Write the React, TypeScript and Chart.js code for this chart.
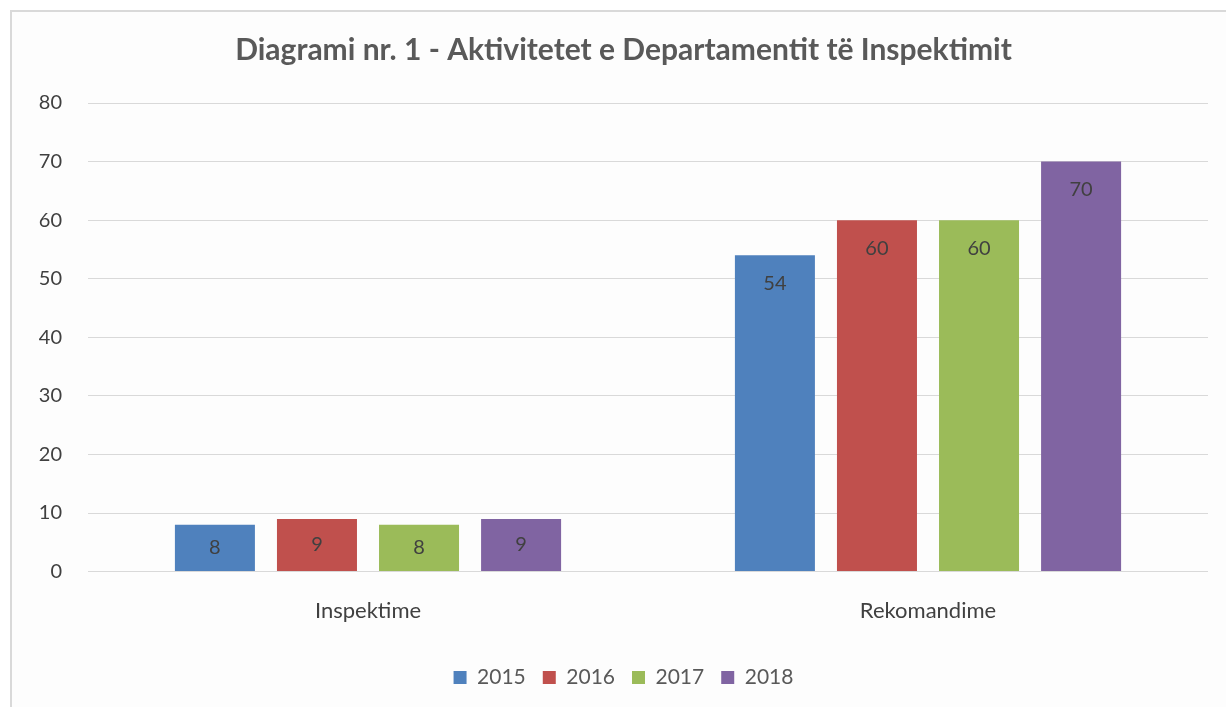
import React, { useEffect, useRef } from "react";
import { Chart, registerables } from "chart.js";

Chart.register(...registerables);

const categories = ["Inspektime", "Rekomandime"];
const seriesNames = ["2015", "2016", "2017", "2018"];
const values2015 = [8, 54];
const values2016 = [9, 60];
const values2017 = [8, 60];
const values2018 = [9, 70];
const seriesColors = ["#4F81BD", "#C0504D", "#9BBB59", "#8064A2"];
const yTicks = [0, 10, 20, 30, 40, 50, 60, 70, 80];
const titleText = "Diagrami nr. 1 - Aktivitetet e Departamentit të Inspektimit";

const FONT = "Lato, 'Open Sans', sans-serif";

const dataLabelPlugin = {
  id: "dataLabels",
  afterDatasetsDraw(chart: any) {
    const ctx = chart.ctx;
    ctx.save();
    ctx.font = `20px ${FONT}`;
    ctx.fillStyle = "#404040";
    ctx.textAlign = "center";
    ctx.textBaseline = "middle";
    chart.data.datasets.forEach((ds: any, di: number) => {
      const meta = chart.getDatasetMeta(di);
      meta.data.forEach((el: any, i: number) => {
        const top = el.y;
        const base = el.base;
        const y = top + Math.min(28, (base - top) / 2);
        ctx.fillText(String(ds.data[i]), el.x, y);
      });
    });
    ctx.restore();
  },
};

export default function App() {
  const ref = useRef<HTMLCanvasElement | null>(null);
  useEffect(() => {
    if (!ref.current) return;
    const all = [values2015, values2016, values2017, values2018];
    const chart = new Chart(ref.current, {
      type: "bar",
      data: {
        labels: categories,
        datasets: seriesNames.map((name, i) => ({
          label: name,
          data: all[i],
          backgroundColor: seriesColors[i],
          borderWidth: 0,
          categoryPercentage: 0.729,
          barPercentage: 0.784,
        })),
      },
      options: {
        responsive: false,
        animation: false,
        layout: { padding: { left: 39, right: 18, top: 0, bottom: 9 } },
        scales: {
          x: {
            grid: { display: false, drawTicks: false },
            border: { display: false },
            ticks: { color: "#404040", font: { family: FONT, size: 22 }, padding: 26 },
          },
          y: {
            min: 0,
            max: 80,
            afterBuildTicks: (scale: any) => {
              scale.ticks = yTicks.map((v) => ({ value: v }));
            },
            afterFit: (scale: any) => {
              scale.width = 49;
            },
            grid: { color: "#d9d9d9", lineWidth: 1, drawTicks: false },
            border: { display: false },
            ticks: { color: "#404040", font: { family: FONT, size: 20 }, padding: 26 },
          },
        },
        plugins: {
          title: {
            display: true,
            text: titleText,
            color: "#595959",
            font: { family: FONT, size: 30, weight: "bold" },
            padding: { top: 32, bottom: 35 },
          },
          legend: {
            position: "bottom",
            labels: {
              color: "#595959",
              font: { family: FONT, size: 21 },
              boxWidth: 13,
              boxHeight: 13,
              padding: 17,
            },
          },
          tooltip: { enabled: false },
        },
      },
      plugins: [dataLabelPlugin],
    });
    return () => chart.destroy();
  }, []);
  return (
    <div>
      <div
        style={{
          position: "fixed",
          left: 10,
          top: 10,
          width: 1240,
          height: 720,
          borderLeft: "2px solid #d9d9d9",
          borderTop: "2px solid #d9d9d9",
          background: "#fdfdfd",
        }}
      />
      <canvas
        ref={ref}
        width={1226}
        height={707}
        style={{ position: "fixed", left: 0, top: 0, width: 1226, height: 707 }}
      />
    </div>
  );
}
